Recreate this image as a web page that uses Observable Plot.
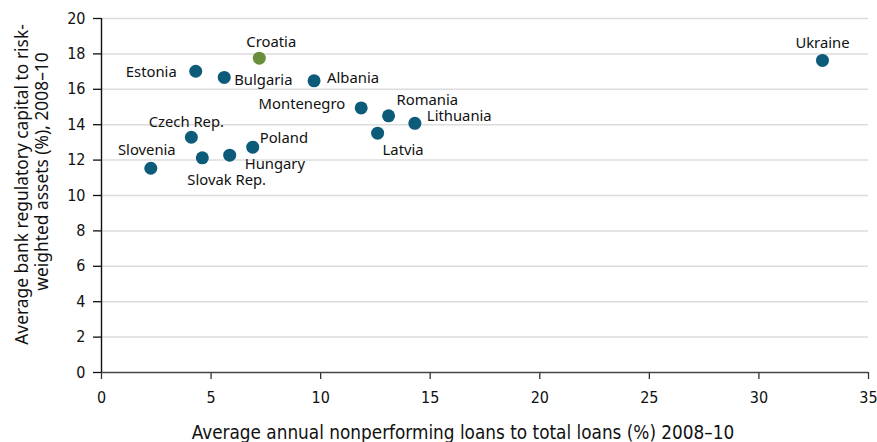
<!DOCTYPE html>
<html>
<head>
<meta charset="utf-8">
<script src="https://cdn.jsdelivr.net/npm/d3@7"></script>
<script src="https://cdn.jsdelivr.net/npm/@observablehq/plot@0.6"></script>
<style>
  html, body { margin: 0; padding: 0; background: #fff; }
  #chart svg { display: block; }
</style>
</head>
<body>
<div id="chart"></div>
<script>
// Data
const countries = ["Ukraine","Croatia","Estonia","Bulgaria","Albania","Montenegro","Romania","Lithuania","Latvia","Czech Rep.","Poland","Hungary","Slovak Rep.","Slovenia"];
const nplRatio = [32.9, 7.2, 4.3, 5.6, 9.7, 11.85, 13.1, 14.3, 12.6, 4.1, 6.9, 5.85, 4.6, 2.25];
const capitalRatio = [17.63, 17.76, 17.02, 16.67, 16.48, 14.95, 14.5, 14.08, 13.52, 13.29, 12.73, 12.28, 12.13, 11.54];
const highlighted = ["Croatia"];
const xTicks = [0, 5, 10, 15, 20, 25, 30, 35];
const yTicks = [0, 2, 4, 6, 8, 10, 12, 14, 16, 18, 20];
const xLabel = "Average annual nonperforming loans to total loans (%) 2008–10";
const yLabelLines = ["Average bank regulatory capital to risk-", "weighted assets (%), 2008–10"];

const data = countries.map((c, i) => ({country: c, x: nplRatio[i], y: capitalRatio[i]}));

// Label placement (styling, not data)
const labelPos = {
  "Ukraine":     {dx: 0,   dy: -17, anchor: "middle"},
  "Croatia":     {dx: 12,  dy: -16, anchor: "middle"},
  "Estonia":     {dx: -19, dy: 1,   anchor: "end"},
  "Bulgaria":    {dx: 10,  dy: 3,   anchor: "start"},
  "Albania":     {dx: 13,  dy: -3,  anchor: "start"},
  "Montenegro":  {dx: -16, dy: -4,  anchor: "end"},
  "Romania":     {dx: 8,   dy: -16, anchor: "start"},
  "Lithuania":   {dx: 12,  dy: -7,  anchor: "start"},
  "Latvia":      {dx: 5,   dy: 17,  anchor: "start"},
  "Czech Rep.":  {dx: -5,  dy: -15, anchor: "middle"},
  "Poland":      {dx: 7,   dy: -9,  anchor: "start"},
  "Hungary":     {dx: 15,  dy: 9,   anchor: "start"},
  "Slovak Rep.": {dx: -15, dy: 22,  anchor: "start"},
  "Slovenia":    {dx: -4,  dy: -18, anchor: "middle"}
};

const BLUE = "#0b5b79";
const GREEN = "#6a8f3b";
const FONT = "'Noto Sans', 'DejaVu Sans', sans-serif";
const AXFONT = "'DejaVu Sans Condensed', 'Noto Sans', sans-serif";

const labelMarks = data.map(d => {
  const p = labelPos[d.country];
  return Plot.text([d], {
    x: "x", y: "y", text: "country",
    dx: p.dx, dy: p.dy, textAnchor: p.anchor,
    fontSize: 14.8, fontFamily: FONT, fill: "#111"
  });
});

const chart = Plot.plot({
  width: 877,
  height: 442,
  marginLeft: 101,
  marginRight: 9,
  marginTop: 18,
  marginBottom: 70,
  style: {fontFamily: AXFONT, fontSize: "16px", color: "#111", background: "#fff"},
  x: {domain: [0, 35], ticks: xTicks, label: null},
  y: {domain: [0, 20], ticks: yTicks, label: null},
  color: {type: "identity"},
  marks: [
    Plot.ruleY(yTicks.filter(v => v > 0), {stroke: "#dcdcdc", strokeWidth: 1.5}),
    Plot.axisX({ticks: xTicks, tickSize: 7, tickPadding: 12, fontSize: 16, fontFamily: AXFONT, label: null, stroke: "#333", strokeWidth: 1.3}),
    Plot.axisY({ticks: yTicks, tickSize: 8, tickPadding: 8, fontSize: 16, fontFamily: AXFONT, label: null, stroke: "#111", strokeWidth: 1.3}),
    Plot.ruleY([0], {stroke: "#444", strokeWidth: 1.6}),
    Plot.ruleX([0], {stroke: "#111", strokeWidth: 1.4}),
    Plot.dot(data, {x: "x", y: "y", r: 6.5, fill: d => highlighted.includes(d.country) ? GREEN : BLUE, stroke: null}),
    ...labelMarks,
    Plot.text([xLabel], {frameAnchor: "bottom", textAnchor: "middle", lineAnchor: "middle", dx: -22, dy: 60, fontSize: 18.8, fontFamily: AXFONT, fill: "#111", text: d => d}),
    Plot.text([yLabelLines[0]], {frameAnchor: "left", textAnchor: "middle", lineAnchor: "middle", rotate: -90, dx: -79, dy: -11, fontSize: 17.4, fontFamily: FONT, fill: "#111", text: d => d}),
    Plot.text([yLabelLines[1]], {frameAnchor: "left", textAnchor: "middle", lineAnchor: "middle", rotate: -90, dx: -59, dy: -24, fontSize: 17.4, fontFamily: FONT, fill: "#111", text: d => d})
  ]
});

document.getElementById("chart").appendChild(chart);
</script>
</body>
</html>
